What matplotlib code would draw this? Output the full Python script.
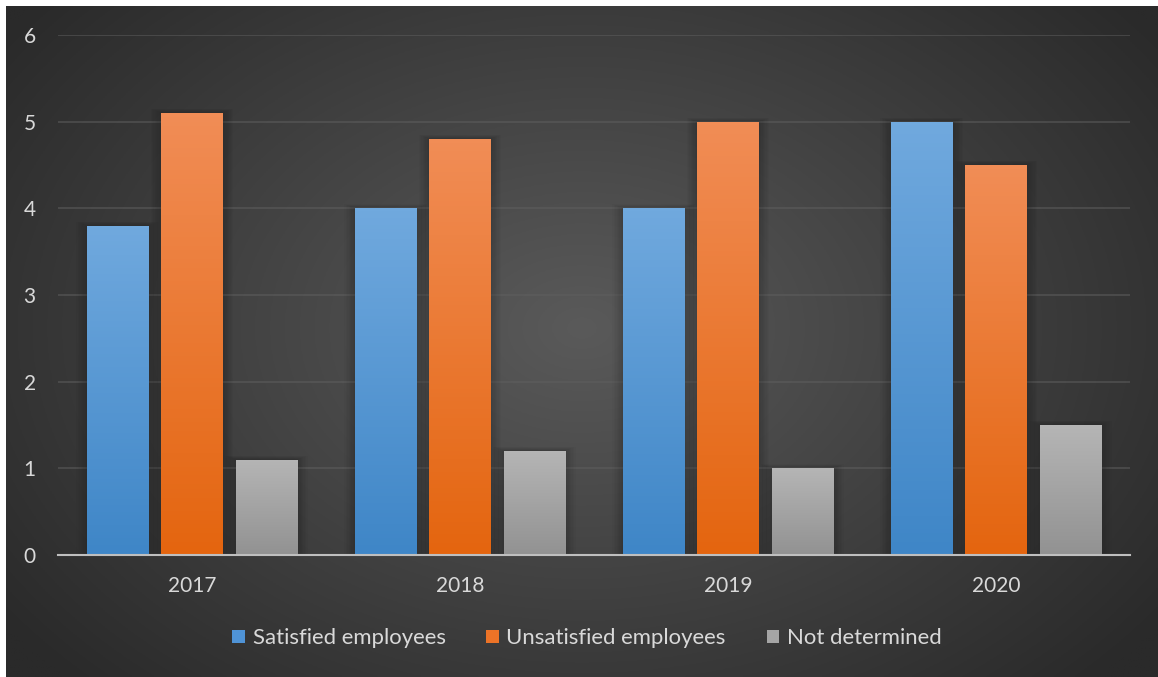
import numpy as np
import matplotlib.pyplot as plt
from matplotlib.colors import to_rgb
from matplotlib.patches import Patch

plt.rcParams["font.family"] = ["Lato", "DejaVu Sans"]

years = ["2017", "2018", "2019", "2020"]
satisfied = [3.8, 4.0, 4.0, 5.0]
unsatisfied = [5.1, 4.8, 5.0, 4.5]
not_determined = [1.1, 1.2, 1.0, 1.5]
series_names = ["Satisfied employees", "Unsatisfied employees", "Not determined"]

# top / bottom colours of each bar gradient
grads = [("#70a9de", "#3f86c7"), ("#f18d56", "#e4650f"), ("#b5b5b5", "#929292")]
legend_cols = ["#4f93d6", "#ec7327", "#a5a5a5"]
text_col = "#d9d9d9"

W, H = 1158, 677
fig = plt.figure(figsize=(W / 100, H / 100), dpi=100)
fig.patch.set_facecolor("white")

# radial background
bg = fig.add_axes([6 / W, 0, (W - 6) / W, (H - 6) / H])
yy, xx = np.mgrid[0:1:300j, 0:1:500j]
r = np.sqrt(((xx - 0.5) / 0.62) ** 2 + ((yy - 0.48) / 0.75) ** 2)
r = np.clip(r, 0, 1)
shade = 0x5a / 255 * (1 - r) + 0x2a / 255 * r
bg.imshow(np.dstack([shade] * 3), aspect="auto", extent=[0, 1, 0, 1], zorder=0)
bg.set_axis_off()

ax = fig.add_axes([58 / W, (H - 555) / H, (1130 - 58) / W, (555 - 35) / H])
ax.patch.set_alpha(0)

x = np.arange(len(years))
width = 0.228
step = 0.277
for i, vals in enumerate([satisfied, unsatisfied, not_determined]):
    bars = ax.bar(x + (i - 1) * step, vals, width, color=grads[i][0], zorder=2)
    top = np.array(to_rgb(grads[i][0]))
    bot = np.array(to_rgb(grads[i][1]))
    t = np.linspace(0, 1, 100)[:, None]
    img = (top * (1 - t) + bot * t)[:, None, :]
    for b in bars:
        bx, by = b.get_x(), b.get_y()
        bw, bh = b.get_width(), b.get_height()
        # soft shadow
        for k in range(8):
            pad = 0.005 * (k + 1)
            ax.add_patch(plt.Rectangle((bx - pad, by), bw + 2 * pad, bh + pad * 1.2,
                                       color="black", alpha=0.018, lw=0, zorder=1.5))
        im = ax.imshow(img, extent=[bx, bx + bw, by, by + bh], aspect="auto", zorder=3)
        im.set_clip_path(b)

ax.set_xlim(-0.5, 3.5)
ax.set_ylim(0, 6)
ax.set_yticks(range(7))
ax.set_xticks(x)
ax.set_xticklabels(years)
ax.grid(axis="y", color="#5f5f5f", linewidth=1.2, alpha=0.6, zorder=1)
ax.set_axisbelow(True)
for s in ["top", "right", "left"]:
    ax.spines[s].set_visible(False)
ax.spines["bottom"].set_color("#bfbfbf")
ax.spines["bottom"].set_linewidth(1.5)
ax.spines["bottom"].set_zorder(4)
ax.tick_params(axis="both", length=0, colors=text_col, labelsize=15)
ax.tick_params(axis="y", pad=16)
ax.tick_params(axis="x", pad=15)

handles = [Patch(facecolor=c, edgecolor="none") for c in legend_cols]
leg = fig.legend(handles, series_names, loc="center", bbox_to_anchor=(587 / W, 1 - 638 / H),
                 ncol=3, frameon=False, fontsize=15.9, handlelength=0.55, handleheight=0.55,
                 handletextpad=0.36, columnspacing=1.85)
for txt in leg.get_texts():
    txt.set_color(text_col)

fig.savefig("out.png", dpi=100)
